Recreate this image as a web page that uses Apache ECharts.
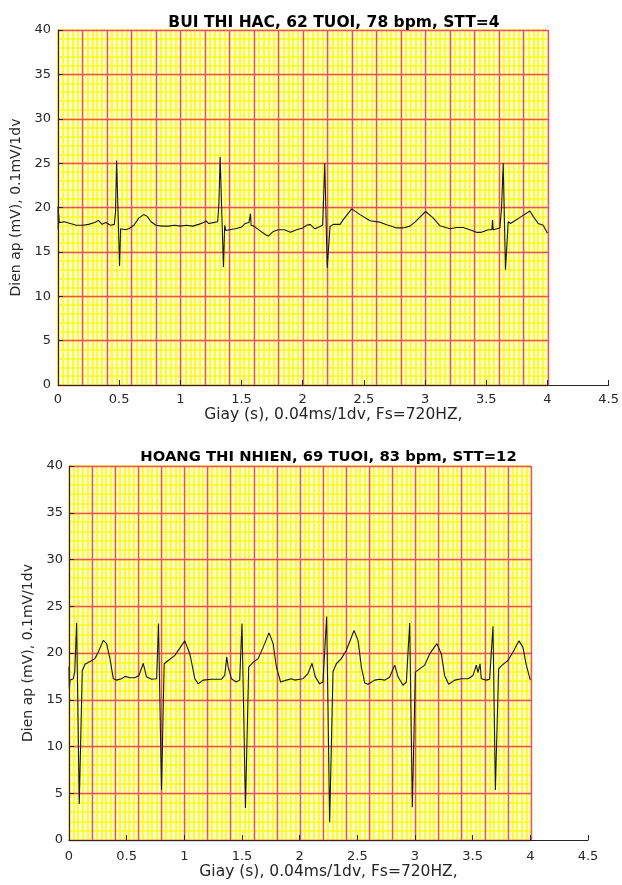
<!DOCTYPE html>
<html>
<head>
<meta charset="utf-8">
<script src="https://cdn.jsdelivr.net/npm/echarts@6/dist/echarts.min.js"></script>
<style>
html,body{margin:0;padding:0;background:#fff;}
#chart{width:622px;height:885px;}
</style>
</head>
<body>
<div id="chart"></div>
<script>
// ---- Data ----
const titleTop = 'BUI THI HAC, 62 TUOI, 78 bpm, STT=4';
const titleBottom = 'HOANG THI NHIEN, 69 TUOI, 83 bpm, STT=12';
const xName = 'Giay (s), 0.04ms/1dv, Fs=720HZ,';
const yName = 'Dien ap (mV), 0.1mV/1dv';

// Trace 1 (top): time (s) and value
const t1 = [0.000,0.002,0.006,0.010,0.050,0.100,0.150,0.200,0.250,0.300,
  0.330,0.360,0.390,0.430,0.460,0.470,0.479,0.503,0.512,0.520,
  0.550,0.580,0.620,0.660,0.700,0.730,0.760,0.800,0.850,0.900,
  0.950,1.000,1.050,1.100,1.150,1.190,1.210,1.230,1.270,1.305,
  1.315,1.325,1.352,1.362,1.372,1.400,1.450,1.500,1.530,1.560,
  1.569,1.573,1.578,1.600,1.650,1.700,1.720,1.760,1.800,1.850,
  1.900,1.950,2.000,2.033,2.060,2.100,2.140,2.163,2.180,2.200,
  2.223,2.250,2.305,2.330,2.400,2.468,2.550,2.630,2.686,2.767,
  2.820,2.876,2.917,3.004,3.067,3.120,3.203,3.257,3.310,3.366,
  3.420,3.460,3.516,3.546,3.551,3.556,3.611,3.625,3.638,3.657,
  3.679,3.698,3.733,3.788,3.856,3.883,3.924,3.965,4.000];
const v1 = [20.1,17.5,19.2,18.3,18.4,18.2,18.0,18.0,18.1,18.3,
  18.55,18.1,18.3,18.0,18.1,19.5,25.3,13.4,17.6,17.7,
  17.5,17.6,18.0,18.8,19.2,19.0,18.4,18.0,17.9,17.9,
  18.0,17.9,18.0,17.9,18.1,18.3,18.5,18.2,18.3,18.4,
  20.5,25.7,13.3,18.0,17.4,17.5,17.6,17.8,18.2,18.3,
  18.3,19.3,18.0,17.9,17.4,16.9,16.8,17.3,17.5,17.5,
  17.2,17.5,17.7,18.0,18.1,17.6,17.85,18.0,25.0,13.2,
  17.85,18.1,18.1,18.6,19.85,19.2,18.5,18.35,18.05,17.7,
  17.7,17.9,18.35,19.55,18.8,17.95,17.6,17.75,17.75,17.5,
  17.2,17.2,17.5,17.5,18.6,17.5,17.7,20.0,25.0,13.0,
  18.4,18.2,18.5,19.0,19.6,19.0,18.2,18.0,17.1];

// Trace 2 (bottom): time (s) and value
const t2 = [0.000,0.003,0.009,0.023,0.037,0.050,0.066,0.089,0.115,0.139,
  0.182,0.225,0.254,0.297,0.326,0.355,0.384,0.413,0.456,0.485,
  0.528,0.571,0.606,0.644,0.672,0.716,0.760,0.776,0.802,0.825,
  0.860,0.918,1.004,1.048,1.091,1.120,1.163,1.235,1.322,1.350,
  1.368,1.380,1.408,1.450,1.480,1.500,1.530,1.558,1.596,1.640,
  1.683,1.734,1.770,1.798,1.835,1.885,1.928,1.957,2.000,2.029,
  2.072,2.107,2.136,2.173,2.202,2.234,2.260,2.289,2.318,2.361,
  2.405,2.471,2.506,2.535,2.564,2.592,2.650,2.694,2.737,2.780,
  2.824,2.853,2.896,2.925,2.954,2.977,3.003,3.040,3.084,3.127,
  3.190,3.228,3.257,3.292,3.344,3.402,3.460,3.503,3.532,3.546,
  3.564,3.575,3.618,3.647,3.676,3.697,3.725,3.755,3.806,3.850,
  3.902,3.936,3.965,4.000];
const v2 = [18.5,16.2,17.1,16.9,17.25,18.0,23.2,3.86,18.1,18.8,
  19.1,19.4,20.1,21.35,21.0,19.4,17.25,17.1,17.25,17.5,
  17.35,17.35,17.6,18.9,17.45,17.2,17.25,23.15,5.36,18.85,
  19.2,19.75,21.3,19.9,17.25,16.7,17.1,17.2,17.2,17.6,
  19.6,18.5,17.25,16.9,17.1,23.15,3.43,18.5,19.0,19.4,
  20.6,22.15,21.0,18.5,16.9,17.1,17.25,17.1,17.2,17.25,
  17.8,18.9,17.45,16.7,16.9,23.9,1.9,18.0,18.85,19.4,
  20.3,22.4,21.35,18.5,16.8,16.65,17.1,17.2,17.1,17.4,
  18.7,17.45,16.55,16.9,23.2,3.5,17.96,18.3,18.7,19.9,
  21.0,19.9,17.6,16.65,17.1,17.25,17.25,17.6,18.7,17.9,
  18.85,17.25,17.1,17.2,22.85,5.36,18.3,18.7,19.2,20.1,
  21.3,20.6,18.7,17.1];

// Axis ranges / tick steps
const xMax = 4.5, xStep = 0.5, yMax = 40, yStep = 5;
const paperMax = 4, majorX = 0.2, minorX = 0.04, majorY = 5, minorY = 1;

// ---- Styles ----
const FONT = 'DejaVu Sans';
const RED = '#f04a6c';
const YEL = '#f9f91e';
const BG = '#ffffc8';
const AX = '#262626';

function pair(t, v) { return t.map((x, i) => [x, v[i]]); }

const panels = [
  {box:{left:58, top:30, paperW:490, fullW:551, height:355}, title:titleTop, tx:329, ty:10, tsize:15.5,
   nameGapX:18, nameGapY:35, labelMarginX:8, labelMarginY:7},
  {box:{left:69, top:466, paperW:462, fullW:519, height:374}, title:titleBottom, tx:323.5, ty:445, tsize:14.8,
   nameGapX:22, nameGapY:33, labelMarginX:10, labelMarginY:6}
];
const traces = [pair(t1, v1), pair(t2, v2)];

const grid = [], xAxis = [], yAxis = [], series = [], title = [];
const hidden = { axisLine:{show:false}, axisTick:{show:false}, axisLabel:{show:false} };

panels.forEach((p, k) => {
  const b = p.box;
  const g0 = grid.length;
  grid.push({left:b.left, top:b.top, width:b.paperW, height:b.height, show:true, backgroundColor:BG, borderWidth:0, z:0});
  grid.push({left:b.left, top:b.top, width:b.paperW, height:b.height, show:false});
  grid.push({left:b.left, top:b.top, width:b.fullW, height:b.height, show:false});

  // minor (yellow) paper lines
  xAxis.push(Object.assign({gridIndex:g0, type:'value', min:0, max:paperMax, interval:minorX, z:1,
    splitLine:{show:true, lineStyle:{color:YEL, width:1.6}}}, hidden));
  yAxis.push(Object.assign({gridIndex:g0, type:'value', min:0, max:yMax, interval:minorY, z:1,
    splitLine:{show:true, lineStyle:{color:YEL, width:1.6}}}, hidden));
  // major (red) paper lines
  xAxis.push(Object.assign({gridIndex:g0+1, type:'value', min:0, max:paperMax, interval:majorX, z:2,
    splitLine:{show:true, lineStyle:{color:RED, width:1.4}}}, hidden));
  yAxis.push(Object.assign({gridIndex:g0+1, type:'value', min:0, max:yMax, interval:majorY, z:2,
    splitLine:{show:true, lineStyle:{color:RED, width:1.4}}}, hidden));
  // data axes
  xAxis.push({gridIndex:g0+2, type:'value', min:0, max:xMax, interval:xStep, z:4,
    splitLine:{show:false},
    axisLine:{show:true, onZero:false, lineStyle:{color:AX, width:1}},
    axisTick:{show:true, inside:true, length:5, lineStyle:{color:AX}},
    axisLabel:{color:AX, fontFamily:FONT, fontSize:13, margin:p.labelMarginX},
    name:xName, nameLocation:'middle', nameGap:p.nameGapX,
    nameTextStyle:{color:AX, fontFamily:FONT, fontSize:15.5}});
  yAxis.push({gridIndex:g0+2, type:'value', min:0, max:yMax, interval:yStep, z:4,
    splitLine:{show:false},
    axisLine:{show:true, onZero:false, lineStyle:{color:AX, width:1}},
    axisTick:{show:true, inside:true, length:5, lineStyle:{color:AX}},
    axisLabel:{color:AX, fontFamily:FONT, fontSize:13, margin:p.labelMarginY},
    name:yName, nameLocation:'middle', nameGap:p.nameGapY, nameRotate:90,
    nameTextStyle:{color:AX, fontFamily:FONT, fontSize:14}});

  series.push({type:'line', xAxisIndex:g0+2, yAxisIndex:g0+2, data:traces[k], z:3,
    showSymbol:false, symbol:'none', silent:true, smooth:false,
    lineStyle:{color:'#161616', width:1.1}});

  title.push({text:p.title, left:p.tx, top:p.ty, textAlign:'center',
    textStyle:{color:'#000', fontFamily:FONT, fontSize:p.tsize, fontWeight:'bold'}});
});

const chart = echarts.init(document.getElementById('chart'), null, {renderer:'canvas'});
chart.setOption({animation:false, backgroundColor:'#fff', title, grid, xAxis, yAxis, series});
</script>
</body>
</html>
